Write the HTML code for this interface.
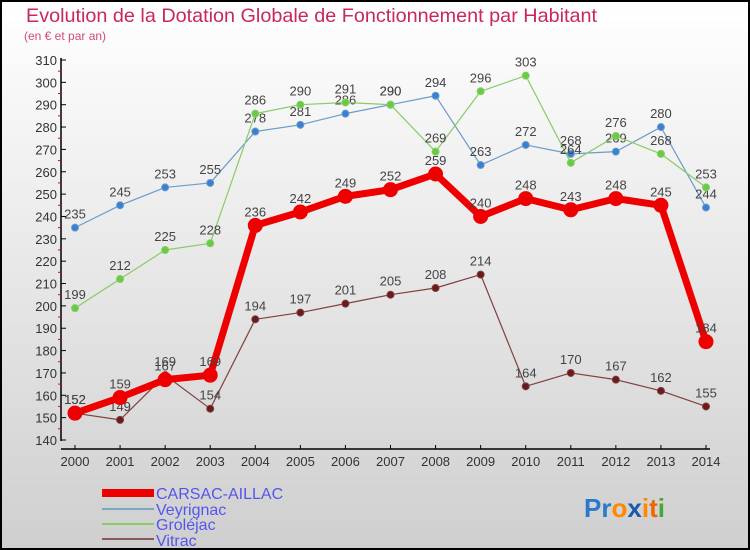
<!DOCTYPE html>
<html><head><meta charset="utf-8"><style>
body{margin:0}
#c{position:relative;width:750px;height:550px;box-sizing:border-box;border:2px solid #000;background:linear-gradient(#ffffff,#cfcfcf);font-family:"Liberation Sans",sans-serif;overflow:hidden}
</style></head><body>
<div id="c">
<svg id="s" width="750" height="550" style="position:absolute;left:-2px;top:-2px">
<text x="26" y="22" font-size="19.5" fill="#c8285a" textLength="571" lengthAdjust="spacingAndGlyphs">Evolution de la Dotation Globale de Fonctionnement par Habitant</text>
<text x="24" y="40" font-size="12" fill="#d04a78">(en € et par an)</text>
<g id="axes"></g><g id="series"></g>
<g font-size="16" fill="#5555ee">
<rect x="102" y="489" width="52" height="8" fill="#ee0000"/>
<text x="156" y="499">CARSAC-AILLAC</text>
<rect x="102" y="508" width="52" height="2" fill="#7aa6c8"/>
<text x="156" y="515">Veyrignac</text>
<rect x="102" y="523" width="52" height="2" fill="#88cc66"/>
<text x="156" y="530">Groléjac</text>
<rect x="102" y="538" width="52" height="2" fill="#8a5a5a"/>
<text x="156" y="546">Vitrac</text>
</g>
<text x="584" y="517" font-size="26" font-weight="bold"><tspan fill="#2a7acc">Pr</tspan><tspan fill="#ff8800">o</tspan><tspan fill="#1a5aaa">x</tspan><tspan fill="#ff8800">i</tspan><tspan fill="#ee6600">t</tspan><tspan fill="#44aa33">i</tspan></text>
</svg>
</div>
<script>
const years=[2000,2001,2002,2003,2004,2005,2006,2007,2008,2009,2010,2011,2012,2013,2014];
const yTicks=[140,150,160,170,180,190,200,210,220,230,240,250,260,270,280,290,300,310];
const carsac=[152,159,167,169,236,242,249,252,259,240,248,243,248,245,184];
const veyrignac=[235,245,253,255,278,281,286,290,294,263,272,268,269,280,244];
const grolejac=[199,212,225,228,286,290,291,290,269,296,303,264,276,268,253];
const vitrac=[152,149,169,154,194,197,201,205,208,214,164,170,167,162,155];
const NS="http://www.w3.org/2000/svg";
const X=i=>75+i*(706-75)/14;
const Y=v=>440-(v-140)*(380/170);
function mk(t,a,p){const e=document.createElementNS(NS,t);for(const k in a)e.setAttribute(k,a[k]);p.appendChild(e);return e;}
const ax=document.getElementById('axes');
let l=mk('line',{x1:61,y1:58,x2:61,y2:441,stroke:'#000','stroke-width':1.5},ax);

l=mk('line',{x1:61,y1:449,x2:710,y2:449,stroke:'#000','stroke-width':1.5},ax);

yTicks.forEach(v=>{const y=Y(v);
 mk('line',{x1:61,y1:y,x2:66,y2:y,stroke:'#000'},ax);
 if(v<310)mk('line',{x1:58,y1:y-11.2,x2:61,y2:y-11.2,stroke:'#e00'},ax);
 const t=mk('text',{x:57,y:y+5,'text-anchor':'end','font-size':13,fill:'#333'},ax);t.textContent=v;
 });
years.forEach((yr,i)=>{const x=X(i);
 mk('line',{x1:x,y1:445,x2:x,y2:449,stroke:'#000'},ax);
 const t=mk('text',{x:x,y:466,'text-anchor':'middle','font-size':13,fill:'#333'},ax);t.textContent=yr;
 });
const sg=document.getElementById('series');
function series(name,vals,col,w,r,dot){
 const g=mk('g',{},sg);
 
 const p=mk('polyline',{points:vals.map((v,i)=>X(i)+','+Y(v)).join(' '),fill:'none',stroke:col,'stroke-width':w,'stroke-linejoin':'round'},g);
 
 vals.forEach((v,i)=>{const c=mk('circle',{cx:X(i),cy:Y(v),r:r,fill:dot,stroke:col,'stroke-width':1},g);
  
  const t=mk('text',{x:X(i),y:Y(v)-9,'text-anchor':'middle','font-size':13,fill:'#444'},g);t.textContent=v;
  });
}
series('veyrignac',veyrignac,'#6a9ccc',1.2,3.5,'#3a80d0');
series('grolejac',grolejac,'#88cc66',1.2,3.5,'#66cc44');
series('vitrac',vitrac,'#804040',1.2,3.5,'#6a1a1a');
series('carsac',carsac,'#ee0000',7,7,'#ee0000');
</script>
</body></html>
